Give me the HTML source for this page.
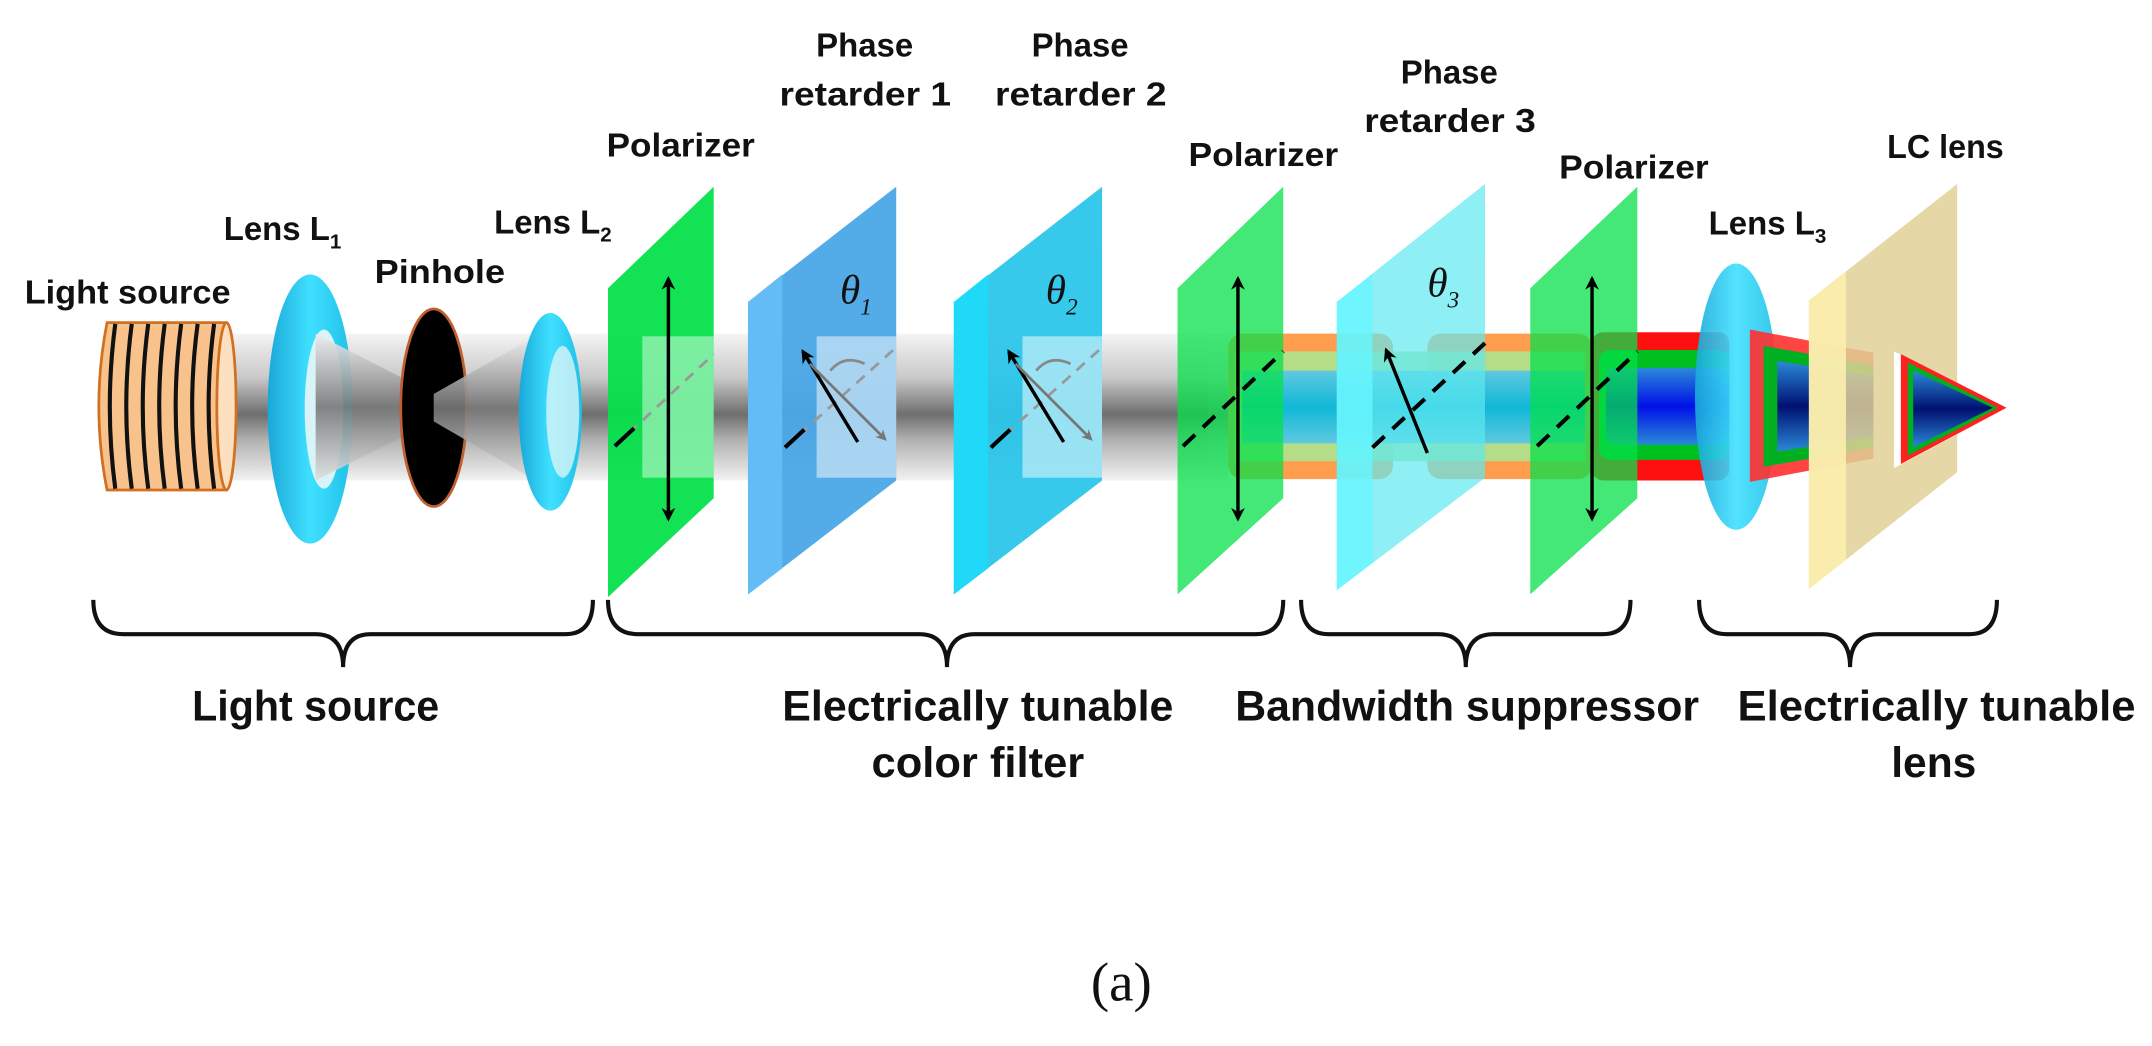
<!DOCTYPE html>
<html><head><meta charset="utf-8"><style>
html,body{margin:0;padding:0;background:#fff;}
svg{display:block;}
.t{font-family:"Liberation Sans Narrow","Liberation Sans",sans-serif;font-weight:bold;fill:#111;}
</style></head><body>
<svg width="2152" height="1046" viewBox="0 0 1568 762" preserveAspectRatio="none" xmlns="http://www.w3.org/2000/svg">
<defs>
<linearGradient id="gb" x1="0" y1="0" x2="0" y2="1">
<stop offset="0" stop-color="#f4f4f4"/><stop offset="0.3" stop-color="#c9c9c9"/><stop offset="0.55" stop-color="#6e6e6e"/><stop offset="0.72" stop-color="#b0b0b0"/><stop offset="1" stop-color="#f2f2f2"/></linearGradient>
<linearGradient id="cone" x1="0" y1="0" x2="0" y2="1">
<stop offset="0" stop-color="#eee"/><stop offset="0.5" stop-color="#777"/><stop offset="1" stop-color="#e0e0e0"/></linearGradient>
<linearGradient id="lens" x1="0" y1="0" x2="1" y2="0">
<stop offset="0" stop-color="#1aa8d8"/><stop offset="0.5" stop-color="#3fe0ff"/><stop offset="1" stop-color="#20c0e8"/></linearGradient>
<linearGradient id="blue" x1="0" y1="0" x2="0" y2="1">
<stop offset="0" stop-color="#2a8ad8"/><stop offset="0.5" stop-color="#0010e8"/><stop offset="1" stop-color="#2a8ad8"/></linearGradient>
<linearGradient id="dblue" x1="0" y1="0" x2="0" y2="1">
<stop offset="0" stop-color="#2a8ad8"/><stop offset="0.5" stop-color="#001070"/><stop offset="1" stop-color="#2a8ad8"/></linearGradient>
<linearGradient id="cyan" x1="0" y1="0" x2="0" y2="1">
<stop offset="0" stop-color="#60c8e0"/><stop offset="0.5" stop-color="#10b8d8"/><stop offset="1" stop-color="#60c8e0"/></linearGradient>
<marker id="ah" viewBox="0 0 10 10" refX="8" refY="5" markerWidth="4" markerHeight="4" orient="auto-start-reverse"><path d="M0,0 L10,5 L0,10 L3,5z" fill="#000"/></marker>
<marker id="ahg" viewBox="0 0 10 10" refX="8" refY="5" markerWidth="4" markerHeight="4" orient="auto"><path d="M0,0 L10,5 L0,10 L3,5z" fill="#777"/></marker>
</defs>

<!-- gray beam -->
<rect x="160" y="243" width="720" height="107" fill="url(#gb)"/>

<!-- coil -->
<path d="M78,235 L165,235 Q173,296 165,357 L78,357 Q66,296 78,235z" fill="#f9c28c" stroke="#d07020" stroke-width="2"/>
<ellipse cx="165" cy="296" rx="7" ry="61" fill="#fde0c0" stroke="#d07020" stroke-width="2"/>
<g stroke="#111" stroke-width="3" fill="none">
<path d="M84,236 Q76,296 84,356"/><path d="M96,236 Q88,296 96,356"/><path d="M108,236 Q100,296 108,356"/><path d="M120,236 Q112,296 120,356"/><path d="M132,236 Q124,296 132,356"/><path d="M144,236 Q136,296 144,356"/><path d="M156,236 Q148,296 156,356"/>
</g>

<!-- lens L1 -->
<ellipse cx="226" cy="298" rx="31" ry="98" fill="url(#lens)"/>
<ellipse cx="236" cy="298" rx="14" ry="58" fill="#d8f4f8"/>
<polygon points="230,243 316,287 316,307 230,350" fill="url(#cone)" opacity="0.9"/>
<!-- pinhole -->
<ellipse cx="316" cy="297" rx="24" ry="72" fill="#000" stroke="#c06030" stroke-width="2"/>
<polygon points="316,287 390,245 390,350 316,307" fill="url(#cone)" opacity="0.9"/>
<!-- lens L2 -->
<ellipse cx="401" cy="300" rx="23" ry="72" fill="url(#lens)"/>
<ellipse cx="410" cy="300" rx="12" ry="48" fill="#d8f4f8" opacity="0.8"/>

<!-- Polarizer 1 -->
<polygon points="443,210 520,136 520,363 443,435" fill="#05e04a" opacity="0.95"/>
<rect x="468" y="245" width="52" height="103" fill="#fff" opacity="0.45"/>
<line x1="448" y1="325" x2="520" y2="258" stroke="#999" stroke-width="2" stroke-dasharray="8,6"/>
<line x1="448" y1="325" x2="462" y2="312" stroke="#000" stroke-width="3"/>
<line x1="487" y1="203" x2="487" y2="378" stroke="#000" stroke-width="2.5" marker-start="url(#ah)" marker-end="url(#ah)"/>

<!-- PR1 -->
<polygon points="545,220 653,136 653,350 545,433" fill="#4aa6e6" opacity="0.95"/>
<polygon points="545,220 570,200 570,414 545,433" fill="#64bcf4"/>
<rect x="595" y="245" width="58" height="103" fill="#fff" opacity="0.5"/>
<line x1="572" y1="326" x2="653" y2="253" stroke="#999" stroke-width="2" stroke-dasharray="8,6"/>
<line x1="572" y1="326" x2="586" y2="313" stroke="#000" stroke-width="3"/>
<line x1="625" y1="322" x2="585" y2="256" stroke="#000" stroke-width="2.5" marker-end="url(#ah)"/>
<line x1="590" y1="265" x2="645" y2="320" stroke="#777" stroke-width="2" marker-end="url(#ahg)"/>
<path d="M605,270 Q615,258 630,265" stroke="#888" stroke-width="2" fill="none"/>
<text x="612" y="221" font-family="Liberation Serif,serif" font-style="italic" font-size="30" fill="#111">θ<tspan font-size="17" dy="8">1</tspan></text>

<!-- PR2 -->
<polygon points="695,220 803,136 803,350 695,433" fill="#2cc6ea" opacity="0.95"/>
<polygon points="695,220 720,200 720,414 695,433" fill="#20d8f8"/>
<rect x="745" y="245" width="58" height="103" fill="#fff" opacity="0.5"/>
<line x1="722" y1="326" x2="803" y2="253" stroke="#999" stroke-width="2" stroke-dasharray="8,6"/>
<line x1="722" y1="326" x2="736" y2="313" stroke="#000" stroke-width="3"/>
<line x1="775" y1="322" x2="735" y2="256" stroke="#000" stroke-width="2.5" marker-end="url(#ah)"/>
<line x1="740" y1="265" x2="795" y2="320" stroke="#777" stroke-width="2" marker-end="url(#ahg)"/>
<path d="M755,270 Q765,258 780,265" stroke="#888" stroke-width="2" fill="none"/>
<text x="762" y="221" font-family="Liberation Serif,serif" font-style="italic" font-size="30" fill="#111">θ<tspan font-size="17" dy="8">2</tspan></text>

<!-- gray beam remainder -->
<rect x="803" y="243" width="92" height="107" fill="url(#gb)" opacity="0.9"/>

<!-- colored beams -->
<rect x="895" y="243" width="120" height="106" rx="10" fill="#ff8c30" opacity="0.85"/>
<rect x="1040" y="243" width="120" height="106" rx="10" fill="#ff8c30" opacity="0.85"/>
<rect x="900" y="256" width="255" height="80" fill="#a8e890" opacity="0.85"/>
<rect x="905" y="270" width="250" height="53" fill="url(#cyan)"/>
<rect x="1160" y="242" width="100" height="108" rx="8" fill="#ff1010"/>
<rect x="1165" y="255" width="95" height="80" rx="8" fill="#00c020"/>
<rect x="1170" y="268" width="90" height="56" rx="6" fill="url(#blue)"/>

<!-- Polarizer 2 -->
<polygon points="858,210 935,136 935,363 858,433" fill="#05e04a" opacity="0.75"/>
<line x1="862" y1="325" x2="935" y2="256" stroke="#000" stroke-width="3" stroke-dasharray="12,8"/>
<line x1="902" y1="203" x2="902" y2="378" stroke="#000" stroke-width="2.5" marker-start="url(#ah)" marker-end="url(#ah)"/>

<!-- PR3 -->
<polygon points="974,220 1082,134 1082,348 974,430" fill="#5ee8f0" opacity="0.7"/>
<polygon points="974,220 1000,200 1000,410 974,430" fill="#66f6ff" opacity="0.8"/>
<line x1="1000" y1="326" x2="1082" y2="250" stroke="#000" stroke-width="3" stroke-dasharray="12,8"/>
<line x1="1040" y1="330" x2="1010" y2="255" stroke="#000" stroke-width="2.5" marker-end="url(#ah)"/>
<text x="1040" y="216" font-family="Liberation Serif,serif" font-style="italic" font-size="30" fill="#111">θ<tspan font-size="17" dy="8">3</tspan></text>

<!-- Polarizer 3 -->
<polygon points="1115,210 1193,136 1193,363 1115,433" fill="#05e04a" opacity="0.75"/>
<line x1="1120" y1="325" x2="1193" y2="256" stroke="#000" stroke-width="3" stroke-dasharray="12,8"/>
<line x1="1160" y1="203" x2="1160" y2="378" stroke="#000" stroke-width="2.5" marker-start="url(#ah)" marker-end="url(#ah)"/>

<!-- lens L3 -->
<ellipse cx="1265" cy="289" rx="30" ry="97" fill="url(#lens)" opacity="0.9"/>
<!-- cone after L3 -->
<polygon points="1275,240 1365,257 1365,334 1275,351" fill="#ff3030" opacity="0.9"/>
<polygon points="1285,252 1365,266 1365,326 1285,340" fill="#00b020"/>
<polygon points="1295,263 1365,274 1365,318 1295,329" fill="url(#dblue)"/>

<!-- LC lens plate -->
<polygon points="1318,219 1426,134 1426,344 1318,429" fill="#e2d096" opacity="0.85"/>
<polygon points="1318,219 1345,198 1345,408 1318,429" fill="#fbeeae" opacity="0.9"/>
<!-- final cone -->
<polygon points="1380,256 1463,297 1380,341" fill="#fff"/>
<polygon points="1385,258 1462,297 1385,338" fill="#ff2020"/>
<polygon points="1390,264 1456,297 1390,332" fill="#00b020"/>
<polygon points="1394,270 1452,297 1394,326" fill="url(#dblue)"/>

<!-- braces -->
<g stroke="#111" stroke-width="3" fill="none">
<path d="M68,437 Q68,462 90,462 L230,462 Q250,462 250,486 Q250,462 270,462 L412,462 Q432,462 432,437"/>
<path d="M443,437 Q443,462 465,462 L670,462 Q690,462 690,486 Q690,462 710,462 L915,462 Q935,462 935,437"/>
<path d="M948,437 Q948,462 968,462 L1048,462 Q1068,462 1068,486 Q1068,462 1088,462 L1168,462 Q1188,462 1188,437"/>
<path d="M1238,437 Q1238,462 1258,462 L1328,462 Q1348,462 1348,486 Q1348,462 1368,462 L1435,462 Q1455,462 1455,437"/>
</g>

<!-- top labels -->
<g class="t" font-size="24">
<text x="630" y="41" text-anchor="middle">Phase</text>
<text x="568" y="77" textLength="125" lengthAdjust="spacingAndGlyphs">retarder 1</text>
<text x="787" y="41" text-anchor="middle">Phase</text>
<text x="725" y="77" textLength="125" lengthAdjust="spacingAndGlyphs">retarder 2</text>
<text x="1056" y="61" text-anchor="middle">Phase</text>
<text x="994" y="96" textLength="125" lengthAdjust="spacingAndGlyphs">retarder 3</text>
<text x="442" y="114" textLength="108" lengthAdjust="spacingAndGlyphs">Polarizer</text>
<text x="866" y="121" textLength="109" lengthAdjust="spacingAndGlyphs">Polarizer</text>
<text x="1136" y="130" textLength="109" lengthAdjust="spacingAndGlyphs">Polarizer</text>
<text x="1375" y="115" textLength="85" lengthAdjust="spacingAndGlyphs">LC lens</text>
<text x="163" y="175">Lens L<tspan font-size="15" dy="6">1</tspan></text>
<text x="360" y="170">Lens L<tspan font-size="15" dy="6">2</tspan></text>
<text x="1245" y="171">Lens L<tspan font-size="15" dy="6">3</tspan></text>
<text x="273" y="206" textLength="95" lengthAdjust="spacingAndGlyphs">Pinhole</text>
<text x="18" y="221" textLength="150" lengthAdjust="spacingAndGlyphs">Light source</text>
</g>
<!-- bottom labels -->
<g class="t" font-size="31">
<text x="140" y="525" textLength="180" lengthAdjust="spacingAndGlyphs">Light source</text>
<text x="570" y="525" textLength="285" lengthAdjust="spacingAndGlyphs">Electrically tunable</text>
<text x="635" y="566" textLength="155" lengthAdjust="spacingAndGlyphs">color filter</text>
<text x="900" y="525" textLength="338" lengthAdjust="spacingAndGlyphs">Bandwidth suppressor</text>
<text x="1266" y="525" textLength="290" lengthAdjust="spacingAndGlyphs">Electrically tunable</text>
<text x="1378" y="566" textLength="62" lengthAdjust="spacingAndGlyphs">lens</text>
</g>
<text x="817" y="729" text-anchor="middle" font-family="Liberation Serif,serif" font-size="40" fill="#111">(a)</text>
</svg>
</body></html>
